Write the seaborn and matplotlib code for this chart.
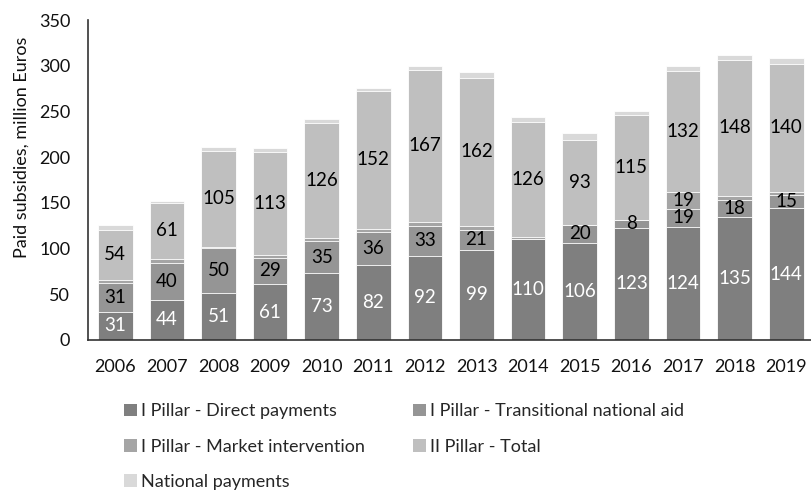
import numpy as np
import pandas as pd
import matplotlib
matplotlib.use("Agg")
import matplotlib.pyplot as plt
import seaborn as sns
from matplotlib.patches import Patch

years = ["2006", "2007", "2008", "2009", "2010", "2011", "2012",
         "2013", "2014", "2015", "2016", "2017", "2018", "2019"]
direct = [31, 44, 51, 61, 73, 82, 92, 99, 110, 106, 123, 124, 135, 144]
transitional = [31, 40, 50, 29, 35, 36, 33, 21, 0, 20, 8, 19, 18, 15]
market = [4, 5, 1, 3, 4, 3, 4, 5, 3, 0, 0, 19, 5, 3]
pillar2 = [54, 61, 105, 113, 126, 152, 167, 162, 126, 93, 115, 132, 148, 140]
national = [6, 2, 4, 4, 4, 3, 4, 6, 5, 7, 5, 6, 6, 7]

series_names = ["I Pillar - Direct payments", "I Pillar - Transitional national aid",
                "I Pillar - Market intervention", "II Pillar - Total", "National payments"]
series_vals = [direct, transitional, market, pillar2, national]
colors = ["#7f7f7f", "#959595", "#a5a5a5", "#bfbfbf", "#d9d9d9"]

sns.set_theme(style="white")
plt.rcParams["font.family"] = ["Lato", "DejaVu Sans"]

fig = plt.figure(figsize=(8.11, 4.92), dpi=100)
ax = fig.add_axes([0.109, 0.309, 0.891, 0.650])

vals = np.array(series_vals, dtype=float)
cum = np.cumsum(vals, axis=0)

# draw cumulative totals from top series down so they stack visually
for i in range(len(series_names) - 1, -1, -1):
    df = pd.DataFrame({"year": years, "value": cum[i]})
    sns.barplot(data=df, x="year", y="value", color=colors[i], saturation=1,
                width=0.67, edgecolor="white", linewidth=0.6, ax=ax)

# data labels
for i in range(4):
    for j, y in enumerate(years):
        v = vals[i, j]
        if v >= 8:
            center = cum[i, j] - v / 2
            ax.text(j, center, f"{int(v)}", ha="center", va="center",
                    fontsize=13.5, color="white" if i == 0 else "black")

ax.set_ylim(0, 350)
ax.set_xlim(-0.52, 13.48)
ax.set_yticks(range(0, 351, 50))
ax.set_xlabel("")
ax.set_ylabel("Paid subsidies, million Euros", fontsize=13, color="#111111")
ax.yaxis.set_label_coords(-0.082, 0.603)
ax.tick_params(axis="both", labelsize=13, colors="#111111", length=0)
ax.tick_params(axis="y", pad=13)
ax.tick_params(axis="x", pad=13.5)
sns.despine(ax=ax, top=True, right=True)
for s in ["left", "bottom"]:
    ax.spines[s].set_color("#333333")
    ax.spines[s].set_linewidth(1.2)

order = [0, 2, 4, 1, 3]
handles = [Patch(facecolor=colors[k], edgecolor="none") for k in order]
labels = [series_names[k] for k in order]
fig.legend(handles, labels, ncol=2, loc="upper left", bbox_to_anchor=(0.153, 0.180),
           frameon=False, fontsize=13, handlelength=0.7, handleheight=0.7,
           handletextpad=0.25, labelspacing=1.07, columnspacing=2.65,
           borderpad=0, borderaxespad=0)

fig.savefig("out.png", dpi=100)
